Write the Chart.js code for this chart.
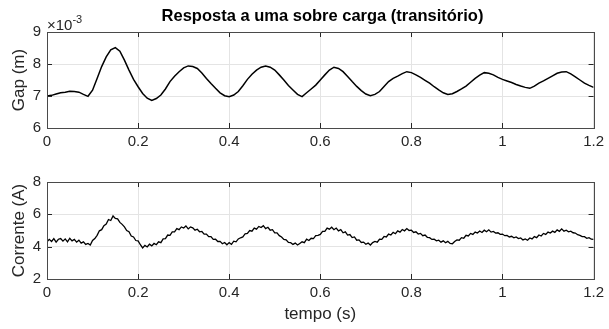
<!DOCTYPE html>
<html><head><meta charset="utf-8">
<script src="https://cdn.jsdelivr.net/npm/chart.js@4.4.0/dist/chart.umd.min.js"></script>
<style>
html,body{margin:0;padding:0;background:#fff;width:609px;height:329px;overflow:hidden;font-family:"Liberation Sans",Arial,sans-serif;}
#cTop{position:absolute;left:0;top:0;}
#cBot{position:absolute;left:0;top:160px;}
#title{position:absolute;top:6.8px;left:0;width:645px;text-align:center;font-weight:bold;font-size:16.5px;line-height:17px;color:#000;white-space:nowrap;}
#exp{position:absolute;left:47px;top:16.8px;font-size:15px;line-height:15px;color:#262626;white-space:nowrap;}
#exp span{font-size:11px;line-height:11px;position:relative;top:-6.5px;}
</style>
</head><body>
<canvas id="cTop" width="609" height="160"></canvas>
<canvas id="cBot" width="609" height="169"></canvas>
<div id="title">Resposta a uma sobre carga (transitório)</div>
<div id="exp">×10<span>-3</span></div>
<script>
// ---- data ----
const gapStep = 0.01;   // s
const gapE3 = [ // Gap in units of 1e-3 m
7.00,7.02,7.06,7.10,7.12,7.15,7.14,7.12,7.05,6.99,
7.18,7.55,7.92,8.22,8.44,8.51,8.40,8.12,7.81,7.52,
7.29,7.08,6.93,6.86,6.92,7.03,7.22,7.45,7.62,7.76,
7.88,7.94,7.92,7.86,7.72,7.55,7.39,7.24,7.10,7.01,
6.98,7.03,7.14,7.32,7.52,7.68,7.81,7.90,7.94,7.90,
7.81,7.66,7.50,7.33,7.19,7.05,6.98,7.10,7.22,7.34,
7.50,7.66,7.81,7.90,7.86,7.76,7.61,7.45,7.30,7.17,
7.06,7.01,7.05,7.14,7.30,7.45,7.55,7.62,7.70,7.76,
7.73,7.66,7.58,7.49,7.40,7.29,7.19,7.10,7.05,7.07,
7.14,7.22,7.31,7.43,7.55,7.65,7.73,7.71,7.66,7.58,
7.52,7.47,7.42,7.36,7.31,7.27,7.24,7.31,7.40,7.47,
7.55,7.63,7.71,7.75,7.76,7.69,7.60,7.50,7.40,7.33,
7.27];
const curStep = 0.005;  // s
const corrente = [ // A
4.30,4.45,4.32,4.50,4.28,4.46,4.50,4.34,4.48,4.30,
4.52,4.36,4.45,4.28,4.40,4.22,4.30,4.14,4.20,4.10,
4.38,4.50,4.70,4.98,5.05,5.30,5.40,5.68,5.62,5.90,
5.75,5.72,5.50,5.38,5.22,5.00,4.92,4.66,4.60,4.38,
4.36,4.12,3.92,4.08,3.98,4.15,4.05,4.20,4.12,4.30,
4.25,4.48,4.50,4.72,4.70,4.92,4.92,5.12,5.05,5.22,
5.15,5.28,5.10,5.22,5.16,5.02,5.08,4.92,4.94,4.78,
4.78,4.62,4.62,4.45,4.46,4.32,4.33,4.18,4.26,4.12,
4.25,4.14,4.34,4.30,4.48,4.55,4.60,4.80,4.82,5.00,
4.96,5.15,5.08,5.25,5.18,5.30,5.12,5.20,5.02,5.05,
4.86,4.85,4.68,4.60,4.45,4.42,4.26,4.25,4.14,4.22,
4.10,4.20,4.30,4.25,4.46,4.38,4.52,4.50,4.68,4.70,
4.76,4.95,4.95,5.15,5.08,5.20,5.05,5.15,4.98,5.05,
4.86,4.92,4.72,4.75,4.56,4.60,4.40,4.42,4.26,4.28,
4.15,4.22,4.10,4.25,4.32,4.28,4.46,4.45,4.63,4.60,
4.78,4.72,4.88,4.80,4.98,4.90,5.06,4.98,5.12,5.00,
5.02,4.88,4.92,4.78,4.82,4.68,4.72,4.58,4.56,4.45,
4.46,4.36,4.40,4.28,4.36,4.24,4.33,4.20,4.18,4.32,
4.42,4.40,4.56,4.52,4.70,4.66,4.82,4.76,4.90,4.84,
4.97,4.88,5.02,4.92,5.04,4.90,4.94,4.84,4.86,4.76,
4.78,4.68,4.70,4.60,4.64,4.55,4.60,4.50,4.54,4.42,
4.48,4.40,4.54,4.48,4.62,4.56,4.72,4.66,4.82,4.76,
4.90,4.84,4.96,4.88,5.04,4.95,5.10,4.96,5.02,4.92,
4.96,4.86,4.84,4.74,4.70,4.62,4.62,4.52,4.56,4.46,
4.45];
const xTicks = [0,0.2,0.4,0.6,0.8,1,1.2];
const xTickLabels = ['0','0.2','0.4','0.6','0.8','1','1.2'];
const gapTicks = [6,7,8,9];
const gapTickLabels = ['6','7','8','9'];
const curTicks = [2,4,6,8];
const curTickLabels = ['2','4','6','8'];

// ---- drawing ----
const FAM = '"Liberation Sans", Arial, sans-serif';
const AX = '#262626';
const framePlugin = {
  id:'frame',
  afterDraw(chart){
    const {ctx, chartArea:a, scales:{x,y}} = chart;
    ctx.save();
    ctx.strokeStyle = AX; ctx.lineWidth = 1;
    ctx.beginPath();
    x.ticks.forEach(tk=>{
      const px = Math.round(x.getPixelForValue(tk.value))+0.5;
      ctx.moveTo(px,a.bottom); ctx.lineTo(px,a.bottom-5);
      ctx.moveTo(px,a.top); ctx.lineTo(px,a.top+5);
    });
    y.ticks.forEach(tk=>{
      const py = Math.round(y.getPixelForValue(tk.value))+0.5;
      ctx.moveTo(a.left,py); ctx.lineTo(a.left+5,py);
      ctx.moveTo(a.right,py); ctx.lineTo(a.right-5,py);
    });
    ctx.stroke();
    ctx.strokeStyle = '#4a4a4a';
    ctx.strokeRect(Math.round(a.left)+0.5, Math.round(a.top)+0.5, Math.round(a.right-a.left), Math.round(a.bottom-a.top));
    ctx.restore();
  }
};

function makeChart(id, step, values, yMin, yMax, yTicks, yLabels, yTitle, xTitle, pad, xh, lw){
  const pts = values.map((v,i)=>({x:i*step, y:v}));
  return new Chart(document.getElementById(id), {
    type:'line',
    data:{datasets:[{data:pts, borderColor:'#000', borderWidth:lw, pointRadius:0, tension:0, fill:false}]},
    options:{
      responsive:false, animation:false, events:[],
      layout:{padding:pad},
      plugins:{legend:{display:false}, tooltip:{enabled:false}, title:{display:false}},
      scales:{
        x:{type:'linear', min:0, max:1.2,
          afterBuildTicks:s=>{s.ticks = xTicks.map(v=>({value:v}));},
          ticks:{callback:(v,i)=>xTickLabels[i], font:{family:FAM,size:15}, color:AX, padding:5, maxRotation:0, autoSkip:false},
          grid:{color:'#e4e4e4', drawTicks:false}, border:{display:false},
          title: xTitle ? {display:true, text:xTitle, font:{family:FAM,size:17}, color:AX, padding:{top:0,bottom:4}} : {display:false},
          afterFit:s=>{s.height = xh;}
        },
        y:{type:'linear', min:yMin, max:yMax,
          afterBuildTicks:s=>{s.ticks = yTicks.map(v=>({value:v}));},
          ticks:{callback:(v,i)=>yLabels[i], font:{family:FAM,size:15}, color:AX, padding:6, autoSkip:false},
          grid:{color:'#e4e4e4', drawTicks:false}, border:{display:false},
          title:{display:true, text:yTitle, font:{family:FAM,size:17}, color:AX, padding:{top:9,bottom:0}},
          afterFit:s=>{s.width = 47;}
        }
      }
    },
    plugins:[framePlugin]
  });
}

makeChart('cTop', gapStep, gapE3, 6, 9, gapTicks, gapTickLabels, 'Gap (m)', null, {top:32,right:10,bottom:0,left:0}, 32, 1.5);
makeChart('cBot', curStep, corrente, 2, 8, curTicks, curTickLabels, 'Corrente (A)', 'tempo (s)', {top:22,right:10,bottom:0,left:0}, 50, 1.3);
</script>
</body></html>
